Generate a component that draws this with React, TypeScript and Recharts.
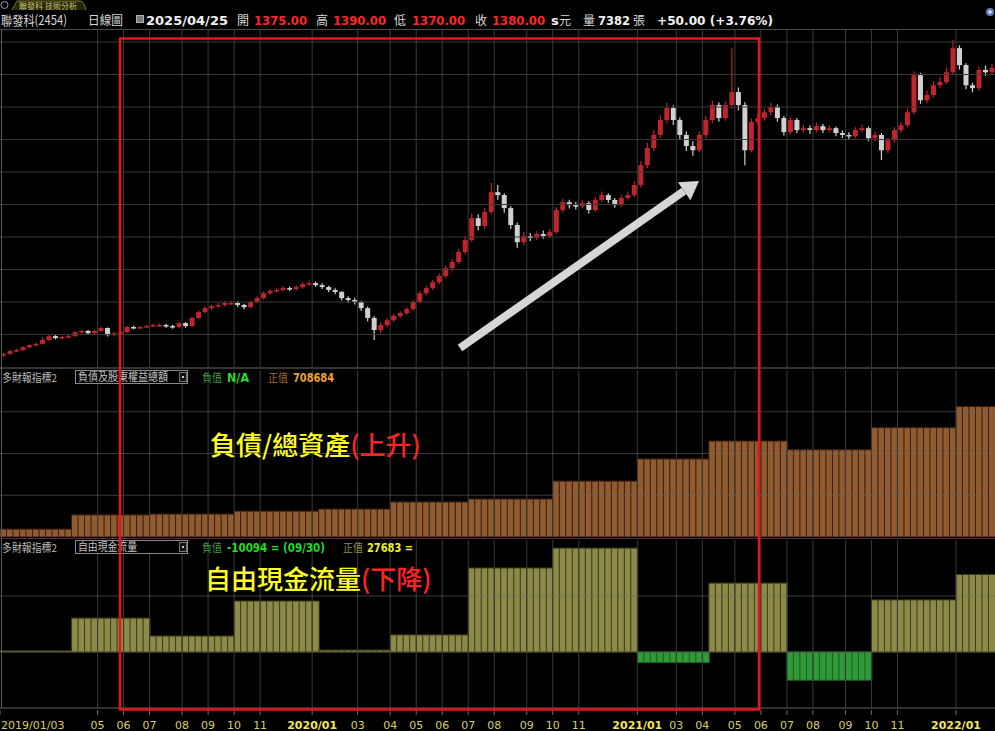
import React from 'react';
import { ComposedChart, BarChart, Bar, XAxis, YAxis, ReferenceLine, Cell } from 'recharts';

// weekly candles (open = previous week's close)
const firstOpen = 236;
const weekClose = [
  240, 249, 252, 261, 267, 271, 283, 295, 289, 292,
  295, 307, 311, 304, 311, 320, 298, 304, 307, 323,
  320, 323, 326, 329, 329, 326, 323, 335, 326, 351,
  369, 381, 387, 391, 397, 397, 391, 384, 400, 412,
  427, 434, 437, 443, 440, 446, 455, 458, 452, 446,
  437, 431, 412, 406, 400, 381, 351, 314, 329, 344,
  357, 366, 378, 400, 427, 443, 461, 480, 504, 523,
  554, 591, 658, 634, 677, 738, 729, 689, 637, 584,
  603, 597, 609, 603, 615, 683, 707, 698, 695, 704,
  683, 714, 729, 714, 698, 720, 729, 760, 821, 874,
  914, 960, 997, 960, 914, 880, 867, 914, 960, 1006,
  966, 1006, 1046, 1006, 867, 954, 966, 984, 1000, 966,
  923, 960, 929, 935, 929, 941, 929, 935, 920, 914,
  910, 929, 935, 904, 914, 867, 898, 929, 944, 984,
  1098, 1021, 1037, 1067, 1077, 1107, 1181, 1129, 1067, 1058,
  1114, 1107, 1120,
];
const weekHigh = [
  244, 252, 256, 264, 270, 275, 292, 298, 298, 296,
  299, 311, 315, 314, 315, 324, 322, 308, 311, 327,
  327, 327, 330, 333, 334, 333, 330, 339, 338, 355,
  374, 386, 392, 397, 403, 404, 402, 395, 405, 418,
  432, 440, 443, 449, 448, 452, 461, 466, 463, 458,
  450, 442, 434, 418, 412, 404, 386, 356, 338, 350,
  363, 372, 384, 406, 433, 450, 468, 488, 512, 532,
  563, 602, 672, 670, 690, 766, 760, 735, 695, 645,
  615, 612, 618, 620, 625, 692, 718, 715, 708, 714,
  710, 724, 740, 735, 720, 730, 740, 772, 835, 890,
  930, 975, 1012, 1005, 968, 925, 895, 925, 972, 1020,
  1015, 1018, 1181, 1060, 1015, 965, 980, 995, 1012, 1008,
  972, 970, 966, 945, 943, 952, 948, 944, 940, 928,
  922, 938, 946, 940, 925, 920, 905, 938, 955, 995,
  1110, 1105, 1050, 1080, 1092, 1122, 1206, 1190, 1135, 1075,
  1125, 1128, 1132,
];
const weekLow = [
  232, 238, 246, 250, 258, 264, 269, 280, 285, 286,
  288, 293, 303, 300, 301, 308, 294, 294, 300, 305,
  316, 317, 319, 322, 324, 321, 318, 320, 321, 323,
  347, 365, 376, 382, 386, 390, 385, 378, 381, 396,
  408, 422, 429, 432, 434, 435, 441, 450, 446, 440,
  430, 424, 405, 398, 392, 372, 340, 283, 305, 322,
  338, 350, 360, 373, 396, 420, 437, 455, 474, 496,
  516, 546, 585, 620, 625, 670, 715, 675, 625, 566,
  575, 588, 590, 595, 596, 610, 675, 688, 685, 688,
  672, 678, 708, 705, 690, 692, 712, 722, 752, 812,
  865, 905, 950, 945, 900, 865, 850, 860, 905, 950,
  955, 958, 995, 990, 821, 860, 945, 958, 975, 955,
  912, 915, 920, 920, 918, 922, 920, 922, 910, 905,
  900, 904, 922, 895, 895, 837, 858, 890, 920, 938,
  978, 1010, 1012, 1030, 1058, 1070, 1100, 1115, 1055, 1045,
  1050, 1095, 1100,
];

// quarterly financials, shown from the week each quarter starts
const quarterStartWeek = [0, 11, 23, 36, 49, 60, 72, 85, 98, 109, 121, 134, 147];
const totalLiabEquity = [415000, 449000, 451000, 458000, 463000, 480000, 487000, 530000, 583000, 626000, 605000, 658000, 708684];
const freeCashFlow = [400, 12100, 5700, 18200, 700, 6100, 30000, 37100, -3800, 24600, -10094, 18600, 27683];

// x axis month ticks (week index) and labels
const tickWeeks = [0, 15, 19, 23, 28, 32, 36, 40, 48, 55, 60, 64, 68, 72, 76, 81, 85, 89, 98, 104, 108, 113, 117, 121, 125, 130, 134, 138, 147];
const tickLabels = ['2019/01/03', '05', '06', '07', '08', '09', '10', '11', '2020/01', '03', '04', '05', '06', '07', '08', '09', '10', '11', '2021/01', '03', '04', '05', '06', '07', '08', '09', '10', '11', '2022/01'];

const priceGrid = [300, 400, 500, 600, 700, 800, 900, 1000, 1100, 1200];
const assetGrid = [496000, 596000, 696000];
const fcfGrid = [0, 20000];

const W = 995;
const GRID = '#3a3a3a';
const CJK = '"Noto Sans CJK TC", "Noto Sans CJK SC", sans-serif';
const NUM = '"DejaVu Sans", Verdana, sans-serif';

const rows = weekClose.map((close, i) => {
  let q = 0;
  quarterStartWeek.forEach((s, k) => {
    if (i >= s) q = k;
  });
  return {
    w: i,
    open: i === 0 ? firstOpen : weekClose[i - 1],
    close,
    high: weekHigh[i],
    low: weekLow[i],
    range: [weekLow[i], weekHigh[i]],
    assets: totalLiabEquity[q],
    fcf: freeCashFlow[q],
  };
});

function Candle(props: any) {
  const { x, y, width, height, payload } = props;
  if (x == null || !payload) return null;
  const top = height >= 0 ? y : y + height;
  const h = Math.abs(height);
  const span = payload.high - payload.low || 1;
  const py = (v: number) => top + ((payload.high - v) / span) * h;
  const up = payload.close >= payload.open;
  const color = up ? '#c0242c' : '#d0d0d0';
  const bTop = py(Math.max(payload.open, payload.close));
  const bBot = py(Math.min(payload.open, payload.close));
  const cx = x + width / 2;
  return (
    <g>
      <line x1={cx} x2={cx} y1={top} y2={top + h} stroke={color} strokeWidth={1.2} />
      <rect x={x} y={bTop} width={width} height={Math.max(1.5, bBot - bTop)} fill={color} />
    </g>
  );
}

function MonthTick(props: any) {
  const { x, y, payload } = props;
  const k = tickWeeks.indexOf(payload.value);
  if (k < 0) return null;
  const label = tickLabels[k];
  const left = x - W / weekClose.length / 2;
  const isYear = label.includes('/');
  return (
    <g>
      <line x1={left} x2={left} y1={y} y2={y + 5} stroke="#7a6470" />
      <text
        x={k === 0 ? left + 1 : left}
        y={y + 19}
        textAnchor={k === 0 ? 'start' : 'middle'}
        fill={isYear && k > 0 ? '#f4e65a' : '#d9cd6c'}
        fontSize={11}
        fontWeight={isYear && k > 0 ? 'bold' : 'normal'}
        fontFamily={NUM}
      >
        {label}
      </text>
    </g>
  );
}

function T({ x, y, children, fill = '#d8d8d8', size = 12, bold = false, font = CJK, len }: any) {
  return (
    <text
      x={x}
      y={y}
      fill={fill}
      fontSize={size}
      fontWeight={bold ? 'bold' : 'normal'}
      fontFamily={font}
      textLength={len}
      lengthAdjust={len ? 'spacingAndGlyphs' : undefined}
    >
      {children}
    </text>
  );
}

const vGrid = (id: string) =>
  tickWeeks.slice(1).map((w) => <ReferenceLine key={id + w} x={w} position="start" stroke={GRID} strokeWidth={1} />);

function Dropdown({ y, label, len }: any) {
  return (
    <g>
      <rect x={75.5} y={y + 0.5} width={112} height={13} fill="#000" stroke="#8a8a8a" />
      <T x={78} y={y + 11} size={11} fill="#c4c4c4" len={len}>{label}</T>
      <rect x={179.5} y={y + 2.5} width={7} height={9} fill="#111" stroke="#777" />
      <rect x={182} y={y + 6} width={2} height={2} fill="#ccc" />
    </g>
  );
}

export default function App() {
  return (
    <div style={{ position: 'fixed', left: 0, top: 0, width: W, height: 731, background: '#000', overflow: 'hidden' }}>
      {/* price panel */}
      <div style={{ position: 'absolute', left: 0, top: 30 }}>
        <ComposedChart width={W} height={337} data={rows} margin={{ top: 0, right: 0, bottom: 0, left: 0 }}>
          <XAxis dataKey="w" type="category" hide />
          <YAxis hide domain={[200, 1237]} allowDataOverflow />
          {priceGrid.map((v) => (
            <ReferenceLine key={'p' + v} y={v} stroke={GRID} strokeWidth={1} />
          ))}
          {vGrid('a')}
          <Bar dataKey="range" barSize={5} shape={<Candle />} isAnimationActive={false} />
        </ComposedChart>
      </div>

      {/* total liabilities + equity */}
      <div style={{ position: 'absolute', left: 0, top: 370 }}>
        <BarChart width={W} height={167} data={rows} margin={{ top: 0, right: 0, bottom: 0, left: 0 }} barCategoryGap={0}>
          <XAxis dataKey="w" type="category" hide />
          <YAxis hide domain={[396000, 796000]} allowDataOverflow />
          {vGrid('b')}
          <Bar dataKey="assets" fill="#8f5b30" stroke="#3a1c0b" strokeWidth={1} isAnimationActive={false} />
          {assetGrid.map((v) => (
            <ReferenceLine key={'g' + v} y={v} stroke="#6a6a6a" strokeOpacity={0.55} strokeWidth={1} />
          ))}
        </BarChart>
      </div>

      {/* free cash flow */}
      <div style={{ position: 'absolute', left: 0, top: 540 }}>
        <BarChart width={W} height={191} data={rows} margin={{ top: 0, right: 0, bottom: 0, left: 0 }} barCategoryGap={0}>
          <XAxis
            dataKey="w"
            type="category"
            height={23}
            ticks={tickWeeks}
            interval={0}
            tickSize={0}
            tickLine={false}
            axisLine={{ stroke: '#6e5a66' }}
            tick={<MonthTick />}
          />
          <YAxis hide domain={[-20000, 40000]} allowDataOverflow />
          {vGrid('c')}
          <Bar dataKey="fcf" isAnimationActive={false} strokeWidth={1}>
            {rows.map((r) => (
              <Cell
                key={'c' + r.w}
                fill={r.fcf >= 0 ? '#8b8a48' : '#2f9a37'}
                stroke={r.fcf >= 0 ? '#3d3c1a' : '#1c5e21'}
              />
            ))}
          </Bar>
          {fcfGrid.map((v) => (
            <ReferenceLine key={'f' + v} y={v} stroke="#6a6a6a" strokeOpacity={0.55} strokeWidth={1} />
          ))}
        </BarChart>
      </div>

      {/* chrome, headers and annotations */}
      <svg width={W} height={731} style={{ position: 'absolute', left: 0, top: 0, pointerEvents: 'none' }}>
        <circle cx={4.5} cy={5} r={3.5} fill="none" stroke="#9a9a9a" />
        <path d="M12,10 L17,1 L80,1 Q84,1 86,10" fill="#26260a" stroke="#7a7a2a" />
        <T x={19} y={8.5} size={8.5} fill="#cfc774" len={58}>聯發科 技術分析</T>
        <circle cx={990} cy={12} r={4} fill="#5b7fc0" />
        <line x1={988} x2={992} y1={12} y2={12} stroke="#fff" />
        <line x1={990} x2={990} y1={10} y2={14} stroke="#fff" />

        <T x={1} y={24.5} size={13} len={66}>聯發科(2454)</T>
        <T x={88} y={24.5} size={12} len={35}>日線圖</T>
        <rect x={136.5} y={15.5} width={7} height={7} fill="#7a7a7a" stroke="#b0b0b0" />
        <T x={146} y={24.5} size={13} bold font={NUM} fill="#f2f2f2" len={82}>2025/04/25</T>
        <T x={237} y={24.5}>開</T>
        <T x={254} y={24.5} size={13} bold font={NUM} fill="#ff2626" len={53}>1375.00</T>
        <T x={316} y={24.5}>高</T>
        <T x={333} y={24.5} size={13} bold font={NUM} fill="#ff2626" len={53}>1390.00</T>
        <T x={394} y={24.5}>低</T>
        <T x={412} y={24.5} size={13} bold font={NUM} fill="#ff2626" len={53}>1370.00</T>
        <T x={475} y={24.5}>收</T>
        <T x={492} y={24.5} size={13} bold font={NUM} fill="#ff2626" len={53}>1380.00</T>
        <T x={551} y={24.5} size={13} bold font={NUM} fill="#f2f2f2">s</T>
        <T x={559} y={24.5}>元</T>
        <T x={583} y={24.5}>量</T>
        <T x={598} y={24.5} size={13} bold font={NUM} fill="#f2f2f2" len={32}>7382</T>
        <T x={633} y={24.5}>張</T>
        <T x={657} y={24.5} size={13} bold font={NUM} fill="#f2f2f2" len={116}>+50.00 (+3.76%)</T>

        <line x1={0} x2={W} y1={29.5} y2={29.5} stroke="#4a4a4a" />
        <line x1={1.5} x2={1.5} y1={30} y2={708} stroke="#5a5a5a" />
        <line x1={0} x2={W} y1={368} y2={368} stroke="#6a6a6a" />
        <line x1={0} x2={W} y1={538.5} y2={538.5} stroke="#5a2a3a" />

        <T x={2} y={382} size={11} fill="#bcbcbc" len={55}>多財報指標2</T>
        <Dropdown y={370} label="負債及股東權益總額" len={90} />
        <T x={202} y={382} size={11} fill="#3f9a3f" len={20}>負值</T>
        <T x={227} y={382} size={12} bold font={NUM} fill="#22dd22" len={22}>N/A</T>
        <T x={268} y={382} size={11} fill="#a06a2a" len={20}>正值</T>
        <T x={293} y={382} size={12} bold font={NUM} fill="#f0a030" len={41}>708684</T>

        <T x={2} y={552} size={11} fill="#bcbcbc" len={55}>多財報指標2</T>
        <Dropdown y={540} label="自由現金流量" len={59} />
        <T x={202} y={552} size={11} fill="#3f9a3f" len={20}>負值</T>
        <T x={227} y={552} size={12} bold font={NUM} fill="#22dd22" len={98}>-10094 = (09/30)</T>
        <T x={343} y={552} size={11} fill="#909040" len={20}>正值</T>
        <T x={367} y={552} size={12} bold font={NUM} fill="#eeee30" len={46}>27683 =</T>

        <rect x={120} y={38.5} width={639} height={671} fill="none" stroke="#e8141a" strokeWidth={2.5} />
        <line x1={460} y1={348} x2={684} y2={191} stroke="#d6d6d6" strokeWidth={8} />
        <polygon points="699,181 690.5,200.3 677.9,182.3" fill="#d6d6d6" />

        <text x={210} y={455} fontSize={26} fontWeight={500} fontFamily={CJK} fill="#ffff22">
          負債/總資產<tspan fill="#ff2424">(上升)</tspan>
        </text>
        <text x={205} y={589} fontSize={26} fontWeight={500} fontFamily={CJK} fill="#ffff22">
          自由現金流量<tspan fill="#ff2424">(下降)</tspan>
        </text>
      </svg>
    </div>
  );
}
